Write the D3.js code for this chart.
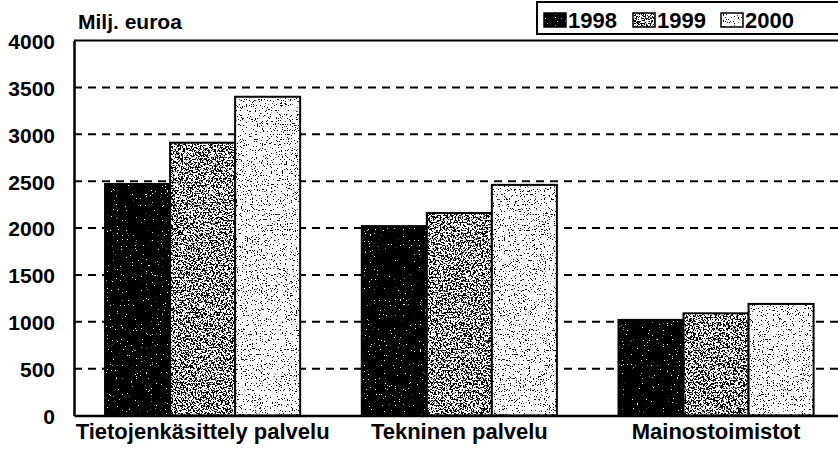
<!DOCTYPE html>
<html>
<head>
<meta charset="utf-8">
<script src="https://cdn.jsdelivr.net/npm/d3@7"></script>
<style>
  body { margin: 0; background: #fff; }
  text { font-family: "Liberation Sans", Arial, sans-serif; font-weight: bold; fill: #000; }
</style>
</head>
<body>
<div id="chart"></div>
<script>
// Data
var categories = ["Tietojenkäsittely palvelu", "Tekninen palvelu", "Mainostoimistot"];
var years = ["1998", "1999", "2000"];
var values1998 = [2470, 2020, 1020];
var values1999 = [2910, 2160, 1090];
var values2000 = [3400, 2460, 1190];
var yTicks = [0, 500, 1000, 1500, 2000, 2500, 3000, 3500, 4000];

var series = [values1998, values1999, values2000];

var svgWidth = 838;
var svgHeight = 458;

var margin = { top: 40.5, right: 0, bottom: 42.5, left: 74 };
var width = svgWidth - margin.left - margin.right;
var height = svgHeight - margin.top - margin.bottom;

var svg = d3.select("#chart")
  .append("svg")
  .attr("width", svgWidth)
  .attr("height", svgHeight);

// Speckle textures (scanned print look)
var defs = svg.append("defs");
function speckle(id, threshold, white, seed, freq) {
  var f = defs.append("filter")
    .attr("id", id)
    .attr("x", 0).attr("y", 0).attr("width", 1).attr("height", 1)
    .attr("color-interpolation-filters", "sRGB");
  f.append("feTurbulence")
    .attr("type", "fractalNoise")
    .attr("baseFrequency", freq)
    .attr("numOctaves", 3)
    .attr("seed", seed);
  var c = white ? 1 : 0;
  f.append("feColorMatrix")
    .attr("type", "matrix")
    .attr("values", `0 0 0 0 ${c} 0 0 0 0 ${c} 0 0 0 0 ${c} 1 0 0 0 0`);
  f.append("feComponentTransfer")
    .append("feFuncA")
    .attr("type", "linear")
    .attr("slope", 25)
    .attr("intercept", -25 * threshold);
}
speckle("tex1998", 0.73, true, 4, 0.8);
speckle("tex1999", 0.5, false, 7, 0.6);
speckle("tex2000", 0.64, false, 11, 0.8);

var baseFill = ["#000", "#fff", "#fff"];
var texture = ["url(#tex1998)", "url(#tex1999)", "url(#tex2000)"];

var chartGroup = svg.append("g")
  .attr("transform", `translate(${margin.left}, ${margin.top})`);

// Scales
var x0 = d3.scaleBand()
  .domain(categories)
  .range([0, width])
  .paddingInner(0.24)
  .paddingOuter(0.108)
  .align(0.56);

var x1 = d3.scaleBand()
  .domain(years)
  .range([0, x0.bandwidth()]);

var yScale = d3.scaleLinear()
  .domain([0, 4000])
  .range([height, 0]);

// Dashed gridlines
chartGroup.append("g")
  .selectAll("line")
  .data(yTicks.filter(d => d > 0 && d < 4000))
  .enter().append("line")
  .attr("x1", 0)
  .attr("x2", width)
  .attr("y1", d => yScale(d))
  .attr("y2", d => yScale(d))
  .attr("stroke", "#000")
  .attr("stroke-width", 2)
  .attr("stroke-dasharray", "8,6");

// Top frame line
chartGroup.append("line")
  .attr("x1", 0).attr("x2", width)
  .attr("y1", yScale(4000)).attr("y2", yScale(4000))
  .attr("stroke", "#000")
  .attr("stroke-width", 2);

// Bars
var rows = categories.map(function(c, i) {
  return { category: c, bars: years.map((y, j) => ({ year: y, idx: j, value: series[j][i] })) };
});

var groups = chartGroup.selectAll("g.group")
  .data(rows)
  .enter().append("g")
  .attr("class", "group")
  .attr("transform", d => `translate(${x0(d.category)}, 0)`);

var bar = groups.selectAll("g.bar")
  .data(d => d.bars)
  .enter().append("g")
  .attr("class", "bar");

bar.append("rect")
  .attr("x", d => x1(d.year))
  .attr("y", d => yScale(d.value))
  .attr("width", x1.bandwidth())
  .attr("height", d => height - yScale(d.value))
  .attr("fill", d => baseFill[d.idx]);

bar.append("rect")
  .attr("x", d => x1(d.year))
  .attr("y", d => yScale(d.value))
  .attr("width", x1.bandwidth())
  .attr("height", d => height - yScale(d.value))
  .attr("fill", "#000")
  .attr("filter", d => texture[d.idx]);

bar.append("rect")
  .attr("x", d => x1(d.year))
  .attr("y", d => yScale(d.value))
  .attr("width", x1.bandwidth())
  .attr("height", d => height - yScale(d.value))
  .attr("fill", "none")
  .attr("stroke", "#000")
  .attr("stroke-width", 2);

// Axes
var leftAxis = d3.axisLeft(yScale)
  .tickValues(yTicks)
  .tickFormat(d3.format("d"))
  .tickSize(0)
  .tickPadding(19);

var yAxis = chartGroup.append("g").call(leftAxis);
yAxis.select(".domain").attr("stroke-width", 2.5);
yAxis.selectAll("text")
  .style("font-size", "21px")
  .attr("dy", "0.38em");

var bottomAxis = d3.axisBottom(x0).tickSize(0).tickPadding(8);
var xAxis = chartGroup.append("g")
  .attr("transform", `translate(0, ${height})`)
  .call(bottomAxis);
xAxis.select(".domain").attr("stroke-width", 2.5);
xAxis.selectAll("text")
  .style("font-size", "22px")
  .attr("dy", "0.72em");

// Unit label
svg.append("text")
  .attr("x", 78)
  .attr("y", 29)
  .style("font-size", "21px")
  .text("Milj. euroa");

// Legend
var legend = svg.append("g");
legend.append("rect")
  .attr("x", 537).attr("y", 2)
  .attr("width", 320).attr("height", 32)
  .attr("fill", "#fff")
  .attr("stroke", "#000")
  .attr("stroke-width", 2);

var legendX = [544, 633, 721];
var item = legend.selectAll("g.item")
  .data(years)
  .enter().append("g")
  .attr("class", "item")
  .attr("transform", (d, i) => `translate(${legendX[i]}, 0)`);

item.append("rect")
  .attr("x", 0).attr("y", 13).attr("width", 22).attr("height", 14)
  .attr("fill", (d, i) => baseFill[i]);
item.append("rect")
  .attr("x", 0).attr("y", 13).attr("width", 22).attr("height", 14)
  .attr("fill", "#000")
  .attr("filter", (d, i) => texture[i]);
item.append("rect")
  .attr("x", 0).attr("y", 13).attr("width", 22).attr("height", 14)
  .attr("fill", "none")
  .attr("stroke", "#000")
  .attr("stroke-width", 1.5);
item.append("text")
  .attr("x", 24)
  .attr("y", 28)
  .style("font-size", "22px")
  .text(d => d);
</script>
</body>
</html>
